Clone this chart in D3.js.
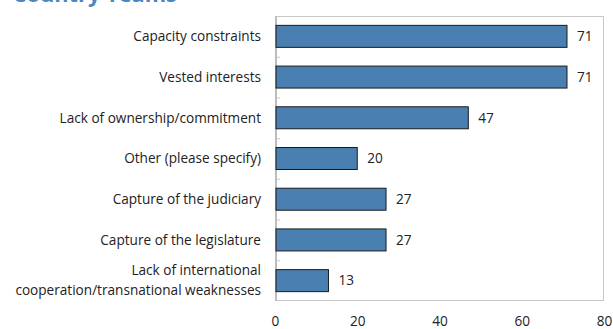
<!DOCTYPE html>
<html>
<head>
<meta charset="utf-8">
<script src="https://cdn.jsdelivr.net/npm/d3@7"></script>
<style>
  html, body { margin: 0; padding: 0; background: #fff; }
  svg { display: block; font-family: "Open Sans", "Noto Sans", sans-serif; }
</style>
</head>
<body>
<svg id="chart" width="613" height="329"></svg>
<script>
// Survey responses: share of respondents citing each obstacle (%)
const categories = [
  "Capacity constraints",
  "Vested interests",
  "Lack of ownership/commitment",
  "Other (please specify)",
  "Capture of the judiciary",
  "Capture of the legislature",
  "Lack of international\ncooperation/transnational weaknesses"
];
const values = [71, 71, 47, 20, 27, 27, 13];
const xTicks = [0, 20, 40, 60, 80];
const titleText = "Country Teams";

const svg = d3.select("#chart");
const plot = { left: 275, right: 604, top: 16, bottom: 301 };
const fontSize = 13.6;

const x = d3.scaleLinear().domain([0, 80]).range([plot.left, plot.right]);
const y = d3.scaleBand().domain(categories).range([plot.top, plot.bottom]).paddingInner(0.46).paddingOuter(0.23);

// Title, running off the top edge: size it so "y Teams" spans x 88..177
function textWidth(str, size) {
  const t = svg.append("text").attr("font-size", size).attr("font-weight", 700).text(str);
  const w = t.node().getComputedTextLength();
  t.remove();
  return w;
}
const baseSize = 26;
const wLead = textWidth("Countr", baseSize);
const wTail = textWidth("y Teams", baseSize);
const k = 89 / wTail;
svg.append("text")
  .attr("x", 88 - wLead * k).attr("y", 2)
  .attr("fill", "#4a86c0")
  .attr("font-size", baseSize * k).attr("font-weight", 700)
  .text(titleText);

// Plot area frame
svg.append("rect")
  .attr("x", plot.left + 0.5).attr("y", plot.top + 0.5)
  .attr("width", plot.right - plot.left - 1).attr("height", plot.bottom - plot.top - 1)
  .attr("fill", "none").attr("stroke", "#c8c8c8").attr("stroke-width", 1);

// Category separators on the vertical axis
const step = (plot.bottom - plot.top) / categories.length;
const sepData = d3.range(1, categories.length);
svg.append("g").selectAll("line").data(sepData).join("line")
  .attr("x1", plot.left).attr("x2", plot.left + 5)
  .attr("y1", i => plot.top + i * step + 0.5).attr("y2", i => plot.top + i * step + 0.5)
  .attr("stroke", "#c8c8c8");

// Vertical axis line
svg.append("line")
  .attr("x1", plot.left + 1).attr("x2", plot.left + 1)
  .attr("y1", plot.top).attr("y2", plot.bottom)
  .attr("stroke", "#bdbdbd").attr("stroke-width", 2);

// Bars
svg.append("g").selectAll("rect").data(values).join("rect")
  .attr("x", x(0) + 1)
  .attr("y", (d, i) => y(categories[i]))
  .attr("width", d => x(d) - x(0) - 1)
  .attr("height", y.bandwidth())
  .attr("fill", "#4a80b1")
  .attr("stroke", "#1a1a1a").attr("stroke-width", 1);

// Value labels
svg.append("g").selectAll("text").data(values).join("text")
  .attr("x", d => x(d) + 10)
  .attr("y", (d, i) => y(categories[i]) + y.bandwidth() / 2)
  .attr("dy", "0.35em")
  .attr("font-size", fontSize).attr("fill", "#222")
  .text(d => d);

// Category labels (multi-line where needed)
const lineGap = 20;
const labels = svg.append("g").selectAll("text").data(categories).join("text")
  .attr("text-anchor", "end")
  .attr("font-size", fontSize).attr("fill", "#222");
labels.each(function(d) {
  const lines = d.split("\n");
  const t = d3.select(this);
  const cy = y(d) + y.bandwidth() / 2 - (lines.length - 1) * lineGap / 2;
  lines.forEach((ln, j) => {
    t.append("tspan")
      .attr("x", plot.left - 14)
      .attr("y", cy + j * lineGap)
      .attr("dy", "0.35em")
      .text(ln);
  });
});

// Horizontal axis tick labels
const xAxis = d3.axisBottom(x).tickValues(xTicks).tickSize(0).tickPadding(0);
const gx = svg.append("g").attr("transform", `translate(0,${plot.bottom + 15})`).call(xAxis);
gx.select(".domain").remove();
gx.selectAll("text").attr("font-size", fontSize).attr("fill", "#222")
  .attr("font-family", "\"Open Sans\", \"Noto Sans\", sans-serif");
</script>
</body>
</html>
